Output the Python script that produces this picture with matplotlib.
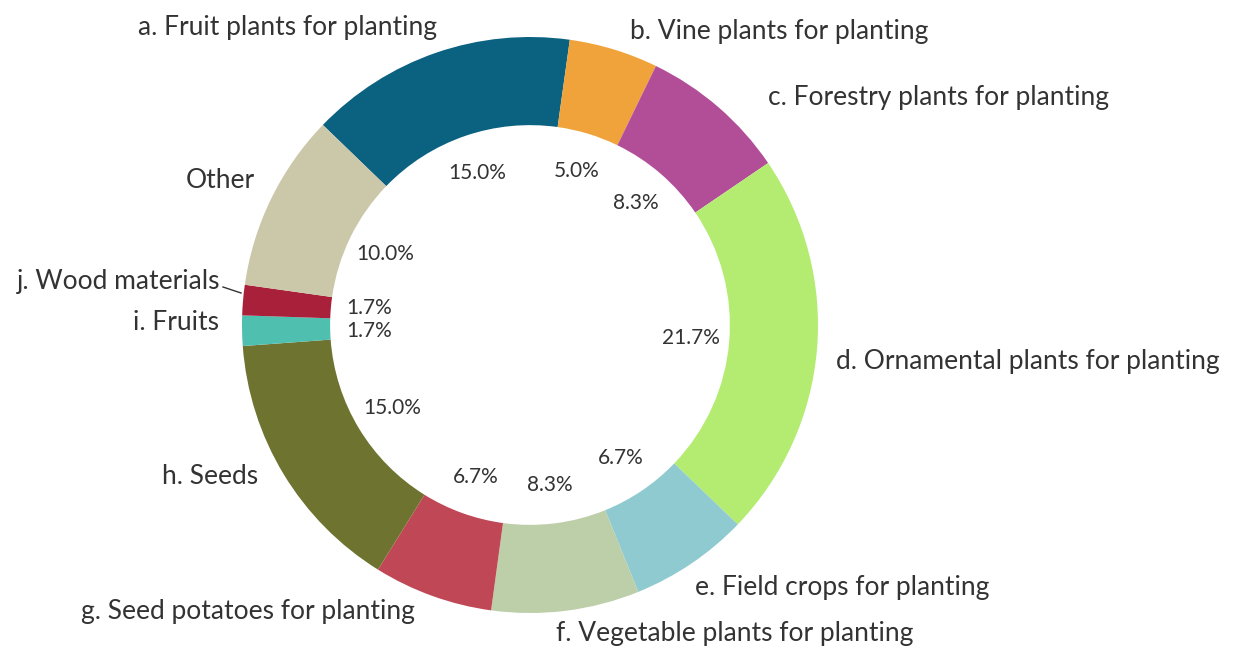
import matplotlib.pyplot as plt
import numpy as np

plt.rcParams['font.family'] = ['Lato', 'DejaVu Sans']

categories = [
    'a. Fruit plants for planting',
    'b. Vine plants for planting',
    'c. Forestry plants for planting',
    'd. Ornamental plants for planting',
    'e. Field crops for planting',
    'f. Vegetable plants for planting',
    'g. Seed potatoes for planting',
    'h. Seeds',
    'i. Fruits',
    'j. Wood materials',
    'Other',
]
shares = [15.0, 5.0, 8.3, 21.7, 6.7, 8.3, 6.7, 15.0, 1.7, 1.7, 10.0]
colors = ['#0b6180', '#f0a33a', '#b24d98', '#b4ec72', '#8fcad0', '#bccfa8',
          '#c04755', '#6e7430', '#4fbfb0', '#a8203a', '#cbc7a9']

# label anchors (pixel space, y measured downward) and horizontal alignment
label_pos = [(437, 28, 'right'), (630, 32, 'left'), (768, 98, 'left'),
             (836, 361, 'left'), (695, 587, 'left'), (556, 633, 'left'),
             (415, 611, 'right'), (258, 476, 'right'), (219, 322, 'right'),
             (220, 282, 'right'), (255, 181, 'right')]

W, H = 1238, 655
cx, cy, R = 530, 330, 288
text_color = '#333333'

fig = plt.figure(figsize=(W / 100, H / 100), dpi=100)
ax = fig.add_axes([0, 0, 1, 1])

wedges, _ = ax.pie(shares, colors=colors, startangle=136, counterclock=False,
                   center=(cx, cy), radius=R,
                   wedgeprops=dict(width=R * 0.306, edgecolor='none'))

# percentage labels inside the hole
pct_xy = []
for w in wedges:
    ang = np.deg2rad((w.theta1 + w.theta2) / 2)
    r = R * 0.56
    pct_xy.append([cx + r * np.cos(ang), cy + r * np.sin(ang)])

# spread the two thin slices' labels so they don't collide
i_idx, j_idx = 8, 9
gap = 23 - (pct_xy[j_idx][1] - pct_xy[i_idx][1])
if gap > 0:
    pct_xy[j_idx][1] += gap / 2
    pct_xy[i_idx][1] -= gap / 2

for (x, y), v in zip(pct_xy, shares):
    ax.text(x, y, f'{v:.1f}%', ha='center', va='center',
            fontsize=15, color=text_color)

# category labels around the ring
for name, (px, py, ha) in zip(categories, label_pos):
    ax.text(px, H - py, name, ha=ha, va='center', fontsize=19, color=text_color)

# leader line for the small wood materials slice
ax.plot([223, 241], [H - 287, H - 293], color=text_color, lw=1)

ax.set_xlim(0, W)
ax.set_ylim(0, H)
ax.set_aspect('equal')
ax.axis('off')

fig.savefig('out.png', dpi=100, facecolor='white')
